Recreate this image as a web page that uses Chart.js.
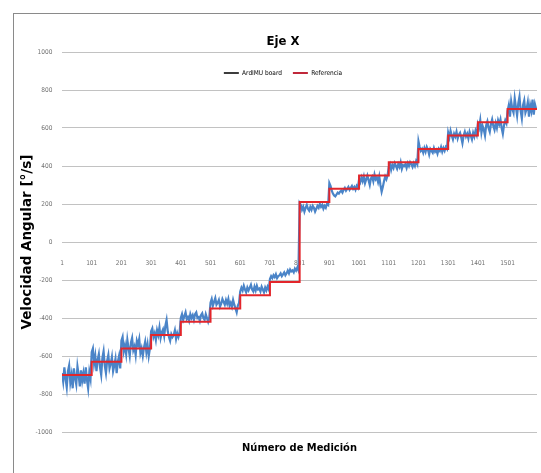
<!DOCTYPE html>
<html lang="es">
<head>
<meta charset="utf-8">
<title>Eje X</title>
<script src="https://cdn.jsdelivr.net/npm/chart.js@4/dist/chart.umd.min.js"></script>
<style>
  html, body { margin: 0; padding: 0; background: #fff; overflow: hidden; }
  #marco {
    position: absolute; left: 13px; top: 13px;
    width: 538px; height: 469px;
    border: 1px solid #8a8a8a; background: #fff;
  }
</style>
</head>
<body>
<div id="marco"><canvas id="grafico"></canvas></div>
<script>
// Marcas del eje X (número de medición)
const xTicks = [1, 101, 201, 301, 401, 501, 601, 701, 801, 901, 1001, 1101, 1201, 1301, 1401, 1501];

// Referencia: medición donde empieza cada escalón y su valor (°/s)
const refInicio = [1, 101, 201, 301, 401, 501, 601, 701, 801, 901, 1001, 1101, 1201, 1301, 1401, 1501, 1600];
const refNivel  = [-700, -630, -560, -490, -420, -350, -280, -210, 210, 280, 350, 420, 490, 560, 630, 700, 700];

// ArdIMU board: una lectura cada 4 mediciones, una fila por escalón
const pasoMuestra = 4;
const ardimu = [
  -690, -735, -660, -720, -765, -680, -650, -740, -700, -770, -665, -715, -750, -655, -700, -760, -675, -730, -690, -745, -660, -725, -770, -685, -720,
  -580, -560, -640, -600, -680, -620, -590, -660, -700, -610, -575, -650, -690, -625, -595, -665, -640, -605, -680, -650, -615, -690, -630, -600, -665,
  -520, -500, -575, -545, -590, -515, -560, -600, -530, -505, -570, -550, -595, -520, -540, -510, -585, -560, -600, -555, -525, -580, -540, -600, -560,
  -470, -455, -500, -480, -515, -465, -490, -450, -505, -475, -460, -495, -440, -410, -470, -500, -520, -485, -500, -490, -465, -510, -480, -500, -475,
  -400, -380, -410, -390, -370, -405, -395, -415, -380, -400, -385, -410, -380, -370, -400, -395, -415, -385, -375, -400, -410, -380, -400, -420, -395,
  -320, -300, -335, -315, -295, -330, -320, -305, -340, -325, -300, -315, -330, -305, -325, -300, -335, -320, -340, -305, -330, -350, -370, -335, -320,
  -260, -240, -255, -230, -250, -265, -240, -255, -240, -225, -250, -260, -235, -255, -230, -250, -245, -260, -235, -250, -265, -240, -255, -235, -250,
  -195, -180, -190, -175, -185, -170, -190, -180, -175, -165, -180, -170, -160, -175, -165, -150, -165, -145, -155, -150, -160, -140, -150, -135, -150,
  205, 195, 170, 185, 160, 180, 195, 175, 165, 185, 170, 190, 180, 160, 175, 190, 180, 200, 185, 195, 175, 190, 180, 200, 195,
  310, 295, 270, 255, 245, 240, 250, 260, 255, 265, 270, 260, 275, 285, 270, 280, 290, 275, 285, 295, 280, 290, 275, 295, 285,
  330, 315, 340, 320, 345, 310, 330, 350, 325, 300, 335, 345, 320, 355, 330, 340, 315, 345, 300, 265, 290, 320, 345, 330, 350,
  395, 410, 380, 405, 390, 415, 400, 385, 410, 395, 420, 385, 405, 400, 410, 390, 415, 400, 420, 410, 395, 415, 400, 425, 410,
  530, 500, 480, 490, 470, 495, 475, 500, 485, 460, 490, 480, 470, 495, 475, 485, 465, 490, 480, 500, 475, 495, 480, 500, 490,
  575, 550, 585, 560, 540, 570, 555, 580, 545, 565, 575, 550, 520, 560, 580, 555, 570, 545, 580, 560, 540, 575, 555, 585, 565,
  620, 600, 640, 575, 610, 590, 560, 615, 635, 600, 580, 620, 645, 610, 590, 625, 600, 640, 620, 645, 600, 570, 615, 640, 625,
  690, 720, 660, 740, 700, 680, 755, 710, 665, 730, 765, 690, 650, 720, 745, 680, 700, 735, 660, 720, 690, 750, 670, 725, 700
];

const fuenteEstrecha = "'Liberation Sans Narrow', 'DejaVu Sans Condensed', 'Open Sans', sans-serif";

// La leyenda de Excel va dentro del área de trazado: no le quitamos altura
const leyendaSuperpuesta = {
  id: "leyendaSuperpuesta",
  afterInit(chart) {
    const legend = chart.legend;
    const fitOriginal = legend.fit;
    legend.fit = function () {
      fitOriginal.call(this);
      this.altoReal = this.height;
      this.height = 0;
    };
  },
  beforeDraw(chart, args, opts) {
    const legend = chart.legend;
    legend.top = chart.chartArea.top + opts.desplazamiento;
    legend.height = legend.altoReal;
    legend.bottom = legend.top + legend.height;
  }
};

const ctx = document.getElementById("grafico").getContext("2d");
const grafico = new Chart(ctx, {
  type: "line",
  data: {
    datasets: [{
      label: "ArdIMU board",
      data: ardimu.map((v, i) => ({ x: 1 + i * pasoMuestra, y: v })),
      borderColor: "#4a84c8",
      borderWidth: 2.2,
      colorLeyenda: "#3c3c3c",
      pointRadius: 0,
      order: 1
    }, {
      label: "Referencia",
      data: refInicio.map((x, i) => ({ x: x, y: refNivel[i] })),
      borderColor: "#e3262b",
      borderWidth: 2,
      colorLeyenda: "#c0283a",
      stepped: "before",
      pointRadius: 0,
      order: 0
    }]
  },
  options: {
    responsive: true,
    maintainAspectRatio: false,
    animation: false,
    layout: {
      padding: { left: 15, right: 15, top: 0, bottom: 0 }
    },
    plugins: {
      title: {
        display: true,
        text: "Eje X",
        color: "#000",
        font: { family: fuenteEstrecha, size: 13, weight: "bold", lineHeight: 1.2 },
        padding: { top: 19.5, bottom: 2.9 }
      },
      subtitle: {
        display: true,
        position: "bottom",
        fullSize: false,
        text: "Número de Medición",
        color: "#000",
        font: { family: fuenteEstrecha, size: 11, weight: "bold", lineHeight: 1.2 },
        padding: { top: 9.5, bottom: 28.3 }
      },
      legend: {
        position: "top",
        labels: {
          color: "#404040",
          font: { family: fuenteEstrecha, size: 6.5 },
          boxWidth: 15,
          boxHeight: 2,
          padding: 11,
          generateLabels: chart => chart.data.datasets.map((ds, i) => ({
            text: ds.label,
            fillStyle: ds.colorLeyenda,
            strokeStyle: ds.colorLeyenda,
            lineWidth: 0,
            hidden: false,
            datasetIndex: i
          }))
        }
      },
      leyendaSuperpuesta: { desplazamiento: 6.7 },
      tooltip: { enabled: false }
    },
    scales: {
      x: {
        type: "linear",
        position: { y: 0 },
        min: 1,
        max: 1600,
        afterBuildTicks: scale => { scale.ticks = xTicks.map(v => ({ value: v })); },
        grid: { display: false },
        border: { display: false },
        ticks: {
          color: "#707070",
          font: { family: fuenteEstrecha, size: 6.5 },
          padding: 9,
          autoSkip: false,
          maxRotation: 0,
          callback: v => String(v)
        }
      },
      y: {
        min: -1000,
        max: 1000,
        afterFit: scale => { scale.width = 33; },
        grid: { color: "#c2c2c2", lineWidth: 1, drawTicks: false },
        border: { display: false },
        ticks: {
          stepSize: 200,
          color: "#707070",
          font: { family: fuenteEstrecha, size: 6.5 },
          padding: 9.5,
          callback: v => String(v)
        },
        title: {
          display: true,
          text: "Velocidad Angular [°/s]",
          color: "#000",
          font: { family: "'DejaVu Sans', Verdana, sans-serif", size: 13.5, weight: "bold", lineHeight: 1.2 },
          padding: { top: -10, bottom: 0 }
        }
      }
    }
  },
  plugins: [leyendaSuperpuesta]
});
</script>
</body>
</html>
